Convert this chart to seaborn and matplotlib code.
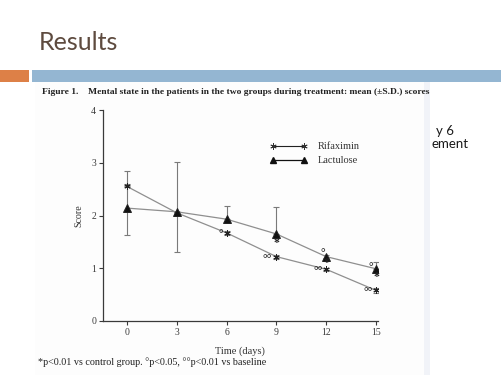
import numpy as np
import pandas as pd
import matplotlib
matplotlib.use("Agg")
import matplotlib.pyplot as plt
from matplotlib.patches import Rectangle
from matplotlib.lines import Line2D
import seaborn as sns

# ---------------- data ----------------
days = [0, 3, 6, 9, 12, 15]
rifaximin = [2.55, 2.05, 1.67, 1.22, 0.98, 0.58]
lactulose = [2.14, 2.07, 1.93, 1.65, 1.22, 0.99]
rif_err_low = [0.00, 0.00, 0.04, 0.04, 0.03, 0.05]
rif_err_high = [0.30, 0.97, 0.04, 0.04, 0.03, 0.05]
lac_err_low = [0.51, 0.76, 0.00, 0.00, 0.03, 0.00]
lac_err_high = [0.45, 0.00, 0.25, 0.52, 0.03, 0.12]
y_ticks = [0, 1, 2, 3, 4]
# significance markers: (group, day, symbol)
sig_marks = [
    ("Rifaximin", 6, "°"),
    ("Rifaximin", 9, "°°"),
    ("Lactulose", 9, "*"),
    ("Lactulose", 12, "°"),
    ("Lactulose", 12, "*"),
    ("Rifaximin", 12, "°°"),
    ("Lactulose", 15, "°"),
    ("Lactulose", 15, "*"),
    ("Rifaximin", 15, "°°"),
]
# pixel offsets for each mark (layout only)
sig_offsets = [(-3, -1), (-4, -2), (0, -9), (-1, 4), (0, -6), (-3, -2), (-3, 2), (0, -8), (-3, -2)]

title_text = "Results"
caption_lead = "Figure 1."
caption_text = "Mental state in the patients in the two groups during treatment: mean (±S.D.) scores"
footnote = "*p<0.01 vs control group. °p<0.05, °°p<0.01 vs baseline"

# ---------------- figure ----------------
sns.set_style("ticks")
plt.rcParams["font.family"] = ["Liberation Serif", "DejaVu Serif"]

W, H = 501, 375
fig = plt.figure(figsize=(W / 100, H / 100), dpi=100)
fig.patch.set_facecolor("white")

def fx(x):
    return x / W

def fy(y):
    return 1 - y / H

# slide decoration
fig.patches.append(Rectangle((fx(0), fy(82)), fx(29), (82 - 70) / H, transform=fig.transFigure,
                             facecolor="#DD8047", edgecolor="none", zorder=-3))
fig.patches.append(Rectangle((fx(32), fy(82)), fx(501 - 32), (82 - 70) / H, transform=fig.transFigure,
                             facecolor="#94B6D2", edgecolor="none", zorder=-3))
fig.text(fx(39), fy(50), title_text, family=["Lato", "DejaVu Sans"], fontsize=18,
         color="#5E4B3F", ha="left", va="baseline")
fig.text(fx(436), fy(135), "y 6", family=["Lato", "DejaVu Sans"], fontsize=9.5,
         color="#1a1a1a", ha="left", va="baseline", zorder=-4)
fig.text(fx(432), fy(148), "ement", family=["Lato", "DejaVu Sans"], fontsize=9.5,
         color="#1a1a1a", ha="left", va="baseline", zorder=-4)
# scanned panel
fig.patches.append(Rectangle((fx(35), 0), fx(430 - 35), fy(82), transform=fig.transFigure,
                             facecolor="#fdfdfd", edgecolor="none", zorder=-2))
fig.patches.append(Rectangle((fx(424), 0), fx(6), fy(82), transform=fig.transFigure,
                             facecolor="#f1f3f8", edgecolor="none", zorder=-2))

fig.text(fx(42), fy(94), caption_lead, fontsize=6.8, fontweight="bold", color="#222", ha="left", va="baseline")
fig.text(fx(88), fy(94), caption_text, fontsize=6.8, fontweight="bold", color="#222", ha="left", va="baseline")
fig.text(fx(38), fy(365), footnote, fontsize=7.3, color="#222", ha="left", va="baseline")

# axes
ax = fig.add_axes([fx(103), fy(321), (378 - 103) / W, (321 - 110) / H])
ax.patch.set_alpha(0)

df = pd.DataFrame({
    "day": days * 2,
    "score": rifaximin + lactulose,
    "group": ["Rifaximin"] * len(days) + ["Lactulose"] * len(days),
})
group_markers = {"Rifaximin": (6, 2, 0), "Lactulose": "^"}
group_msize = {"Rifaximin": 4.5, "Lactulose": 5.5}
for grp, mk in group_markers.items():
    sns.lineplot(data=df[df["group"] == grp], x="day", y="score", color="#8f8f8f",
                 marker=mk, markersize=group_msize[grp], linewidth=0.9, legend=False, ax=ax,
                 mec="#111111", mfc="#111111", mew=0.7, zorder=3)
for ln in ax.lines:
    ln.set_markerfacecolor("#111111")
    ln.set_markeredgecolor("#222222")

ax.errorbar(days, rifaximin, yerr=[rif_err_low, rif_err_high], fmt="none",
            ecolor="#7a7a7a", elinewidth=0.8, capsize=2, capthick=0.8, zorder=2)
ax.errorbar(days, lactulose, yerr=[lac_err_low, lac_err_high], fmt="none",
            ecolor="#7a7a7a", elinewidth=0.8, capsize=2, capthick=0.8, zorder=2)

series = {"Rifaximin": rifaximin, "Lactulose": lactulose}
for (grp, d, sym), (dx, dy) in zip(sig_marks, sig_offsets):
    yv = series[grp][days.index(d)]
    ha = "right" if dx < 0 else "center"
    ax.annotate(sym, (d, yv), xytext=(dx, dy), textcoords="offset pixels",
                ha=ha, va="center", fontsize=8.5, fontweight="bold", color="#222")

ax.set_xlim(-1.45, 15.12)
ax.set_ylim(0, 4)
ax.set_xticks(days)
ax.set_yticks(y_ticks)
ax.set_xlabel("Time (days)", fontsize=7.5, color="#333")
ax.set_ylabel("Score", fontsize=7.2, color="#333")
ax.xaxis.set_label_coords(0.498, -0.118)
ax.yaxis.set_label_coords(-0.073, 0.5)
sns.despine(ax=ax)
for s in ("left", "bottom"):
    ax.spines[s].set_color("#3a3a3a")
    ax.spines[s].set_linewidth(0.9)
ax.tick_params(axis="both", direction="out", length=3, width=0.8, colors="#3a3a3a",
               labelsize=7, pad=2)

handles = [
    Line2D([], [], color="#222", lw=0.8, marker=(6, 2, 0), markersize=4.5, mec="#333", mew=0.6),
    Line2D([], [], color="#111", lw=0.9, marker="^", markersize=5, mfc="#111", mec="#111"),
]
fig.legend(handles, ["Rifaximin", "Lactulose"], loc="upper left",
           bbox_to_anchor=(fx(270), fy(142)), bbox_transform=fig.transFigure,
           frameon=False, numpoints=2, fontsize=7.5, handlelength=3.6,
           handletextpad=1.0, labelspacing=0.45, borderpad=0, borderaxespad=0,
           labelcolor="#333")

fig.savefig("out.png", dpi=100)
